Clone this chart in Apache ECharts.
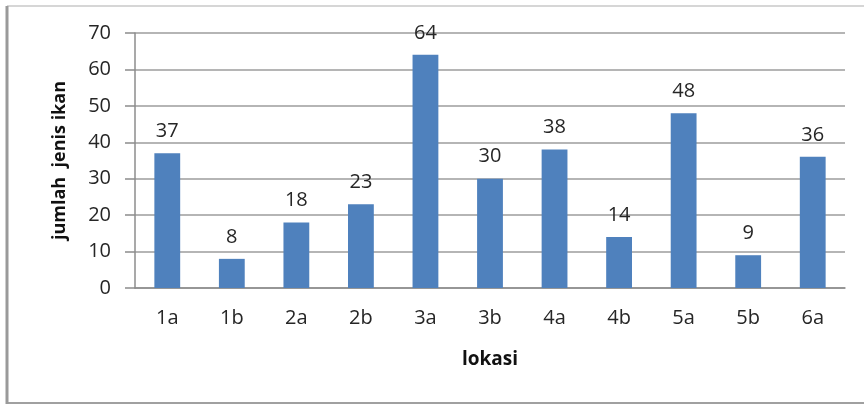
<!DOCTYPE html>
<html>
<head>
<meta charset="utf-8">
<script src="https://cdn.jsdelivr.net/npm/echarts@6/dist/echarts.min.js"></script>
<style>
  html, body { margin: 0; padding: 0; background: #fff; }
  #chart { width: 864px; height: 405px; }
</style>
</head>
<body>
<div id="chart"></div>
<script>
var lokasi = ['1a', '1b', '2a', '2b', '3a', '3b', '4a', '4b', '5a', '5b', '6a'];
var jumlahJenis = [37, 8, 18, 23, 64, 30, 38, 14, 48, 9, 36];

var myChart = echarts.init(document.getElementById('chart'), null, { renderer: 'canvas' });

var option = {
  animation: false,
  textStyle: { fontFamily: 'Open Sans' },
  graphic: [
    // chart frame
    { type: 'line', shape: { x1: 7, y1: 6, x2: 864, y2: 6 }, style: { stroke: '#c8c8c8', lineWidth: 1.5 } },
    { type: 'line', shape: { x1: 7, y1: 403, x2: 864, y2: 403 }, style: { stroke: '#a0a0a0', lineWidth: 2 } },
    { type: 'line', shape: { x1: 7, y1: 6, x2: 7, y2: 404 }, style: { stroke: '#9a9a9a', lineWidth: 3 } }
  ],
  grid: { left: 135, right: 19, top: 33, bottom: 117 },
  xAxis: {
    type: 'category',
    data: lokasi,
    name: 'lokasi',
    nameLocation: 'middle',
    nameGap: 62,
    nameTextStyle: { fontSize: 19, fontWeight: 'bold', color: '#111' },
    axisLine: { lineStyle: { color: '#8c8c8c', width: 1.5 } },
    axisTick: { show: false },
    axisLabel: { fontSize: 20, color: '#262626', margin: 20 }
  },
  yAxis: {
    type: 'value',
    min: 0,
    max: 70,
    interval: 10,
    name: 'jumlah  jenis ikan',
    nameLocation: 'middle',
    nameGap: 66,
    nameTextStyle: { fontSize: 18, fontWeight: 'bold', color: '#111' },
    axisLine: { show: true, lineStyle: { color: '#8c8c8c', width: 1.5 } },
    axisTick: { show: true, length: 10, lineStyle: { color: '#8c8c8c', width: 1.5 } },
    axisLabel: { fontSize: 20, color: '#262626', margin: 24 },
    splitLine: { lineStyle: { color: '#9c9c9c', width: 1.5 } }
  },
  series: [{
    type: 'bar',
    data: jumlahJenis,
    barWidth: '40%',
    itemStyle: { color: '#4f81bd' },
    label: {
      show: true,
      position: 'top',
      distance: 12,
      fontSize: 20,
      color: '#262626'
    }
  }]
};

myChart.setOption(option);
window.addEventListener('resize', myChart.resize);
</script>
</body>
</html>
